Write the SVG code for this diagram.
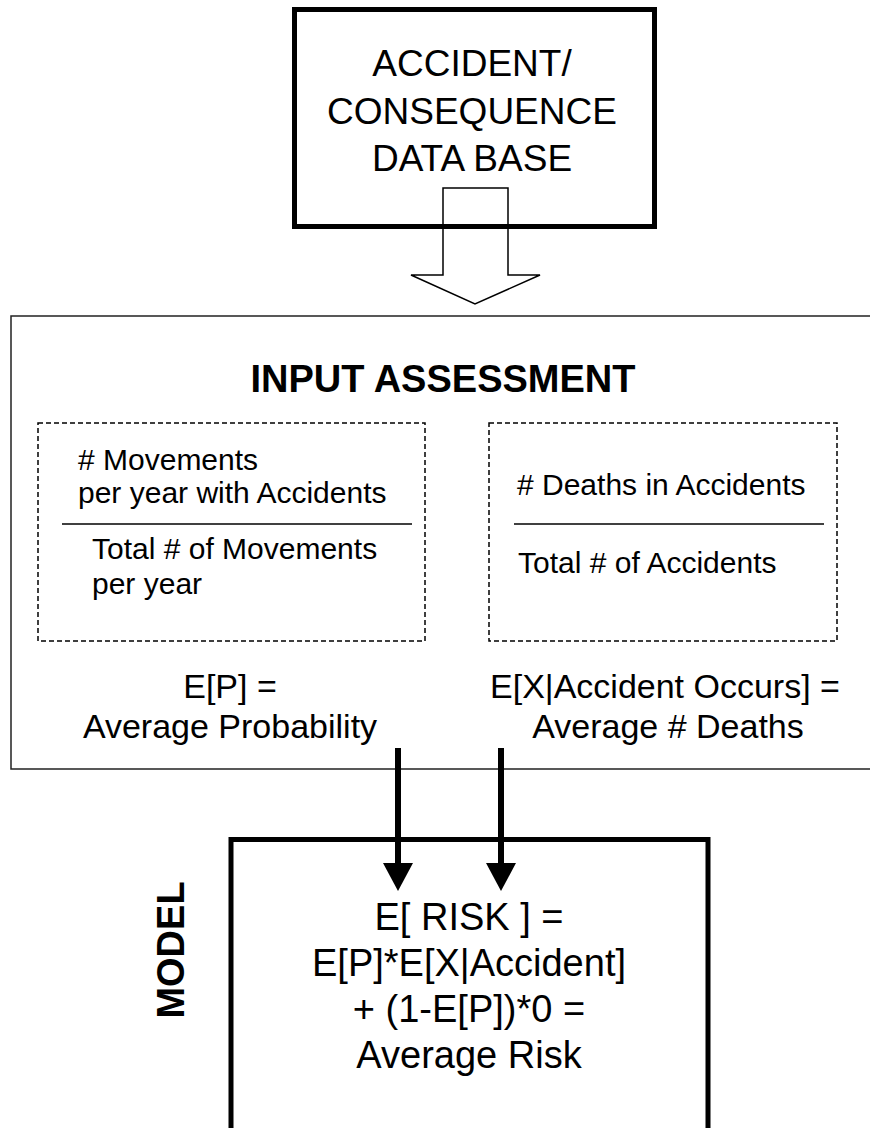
<svg xmlns="http://www.w3.org/2000/svg" width="870" height="1128" viewBox="0 0 870 1128">
<style>
text{font-family:"Liberation Sans",Arial,sans-serif;fill:#000}
.t37{font-size:37px;text-anchor:middle}
.t34{font-size:34px;text-anchor:middle}
.t30{font-size:30px}
.t38{font-size:38px;text-anchor:middle}
.bold{font-weight:bold}
.thick{fill:none;stroke:#000;stroke-width:5}
.dash{fill:none;stroke:#000;stroke-width:1.5;stroke-dasharray:5 3}
.thin{fill:none;stroke:#000;stroke-width:1.5}
</style>
<rect width="870" height="1128" fill="#fff"/>
<g id="database">
<rect class="thick" x="294.5" y="9.5" width="360" height="217"/>
<text class="t37" x="472" y="76">ACCIDENT/</text>
<text class="t37" x="472" y="124">CONSEQUENCE</text>
<text class="t37" x="472" y="171">DATA BASE</text>
</g>
<g id="input-assessment">
<path d="M870,316 H11 V769 H870" fill="none" stroke="#222" stroke-width="1.5"/>
<text class="bold" x="443" y="392" font-size="38" text-anchor="middle">INPUT ASSESSMENT</text>
</g>
<g id="probability">
<rect class="dash" x="38" y="423" width="387" height="218"/>
<text class="t30" x="78" y="470"># Movements</text>
<text class="t30" x="78" y="503">per year with Accidents</text>
<line class="thin" x1="62" y1="524" x2="412" y2="524"/>
<text class="t30" x="92" y="559">Total # of Movements</text>
<text class="t30" x="92" y="594">per year</text>
<text class="t34" x="230" y="698">E[P] =</text>
<text class="t34" x="230" y="738">Average Probability</text>
</g>
<g id="consequence">
<rect class="dash" x="489" y="423" width="348" height="218"/>
<text class="t30" x="517" y="495"># Deaths in Accidents</text>
<line class="thin" x1="514" y1="524" x2="824" y2="524"/>
<text class="t30" x="518" y="573">Total # of Accidents</text>
<text class="t34" x="665" y="698">E[X|Accident Occurs] =</text>
<text class="t34" x="668" y="738">Average # Deaths</text>
</g>
<g id="model">
<path class="thick" d="M231,1130 V839.5 H708 V1130"/>
<text class="bold" font-size="38" text-anchor="middle" transform="translate(184,950) rotate(-90)">MODEL</text>
<text class="t38" x="469" y="930">E[ RISK ] =</text>
<text class="t38" x="469" y="976">E[P]*E[X|Accident]</text>
<text class="t38" x="469" y="1022">+ (1-E[P])*0 =</text>
<text class="t38" x="469" y="1068">Average Risk</text>
</g>
<g id="connectors">
<polygon points="443,188 508,188 508,275 540,275 475,304 411,275 443,275" fill="none" stroke="#000" stroke-width="1.5"/>
<line x1="398" y1="748" x2="398" y2="866" stroke="#000" stroke-width="6"/>
<polygon points="383,863 413,863 398,891" fill="#000"/>
<line x1="501" y1="748" x2="501" y2="866" stroke="#000" stroke-width="6"/>
<polygon points="486,863 516,863 501,891" fill="#000"/>
</g>
</svg>
